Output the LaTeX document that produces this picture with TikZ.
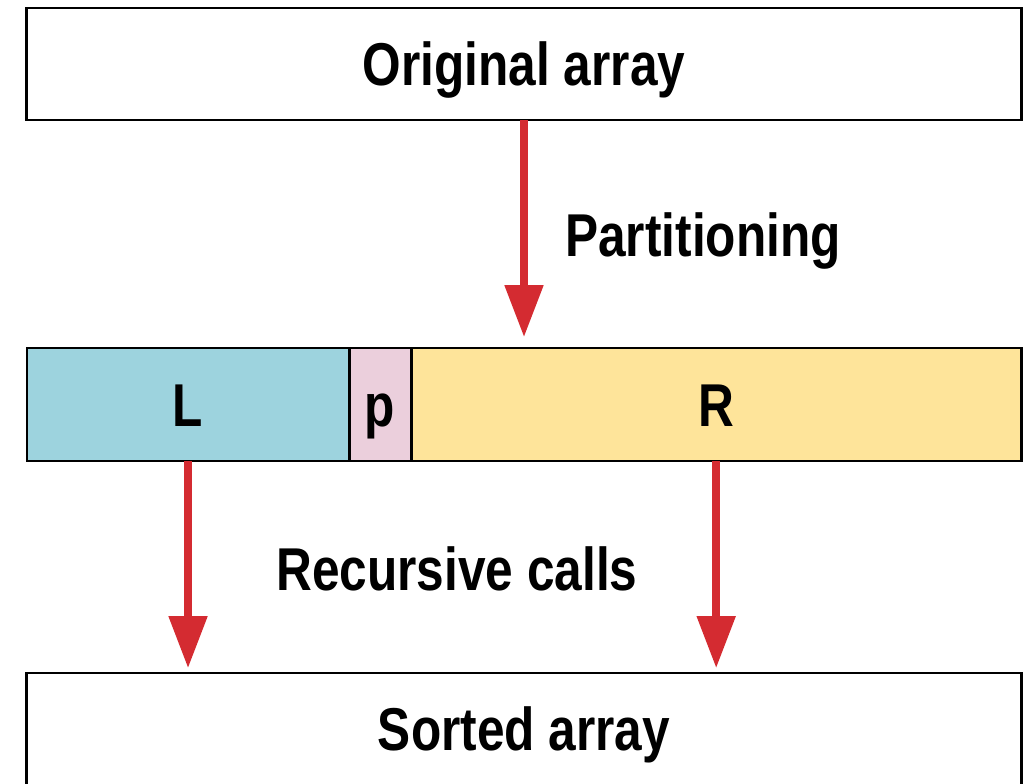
\documentclass[tikz,border=0pt]{standalone}
\usepackage{fontspec}
\setmainfont{Liberation Sans}[FakeStretch=0.82]
\usetikzlibrary{arrows.meta, positioning}

\definecolor{arrowred}{HTML}{D42B31}
\definecolor{lblue}{HTML}{9DD3DE}
\definecolor{ppink}{HTML}{EBCFDC}
\definecolor{ryellow}{HTML}{FEE49A}

\tikzset{
  lbl/.style = {font=\fontsize{43}{50}\selectfont\bfseries,
                text height=30.8pt, text depth=0pt, inner sep=0pt},
  box/.style = {lbl, draw, line width=2.1pt, outer sep=0pt,
                minimum height=2.8cm},
  part/.style = {box, minimum height=2.825cm, anchor=west},
  flow/.style = {draw=arrowred, line width=0.2cm,
                 -{Triangle[width=0.925cm, length=1.3cm]}}
}

\begin{document}
\begin{tikzpicture}%
        [x=0.025cm, y=-0.025cm]
        \useasboundingbox (0,0) rectangle (1031,783);
        \clip (0,0) rectangle (1031,783);

        \node [box, minimum width=24.85cm] (orig) at (524,64) {Original array};

        \node [part, fill=lblue, minimum width=8.05cm] (L) at (27,404.5) {L};
        \node [part, fill=ppink, minimum width=1.55cm] (p) at (L.east) {p};
        \node [part, fill=ryellow, minimum width=15.25cm] (R) at (p.east) {R};

        \node [box, minimum width=24.85cm, anchor=north] (sorted) at (524,673) {Sorted array};

        \draw [flow, shorten >=0.27cm] (orig.south) -- (orig.south |- R.north);
        \draw [flow, shorten >=0.12cm] (L.south) -- (L.south |- sorted.north);
        \draw [flow, shorten >=0.12cm] (R.south) -- (R.south |- sorted.north);

        \node [lbl] (parting) at (703,235) {Partitioning};
        \node [lbl] (reccalls) at (457,569) {Recursive calls};
    \end{tikzpicture}
\end{document}
